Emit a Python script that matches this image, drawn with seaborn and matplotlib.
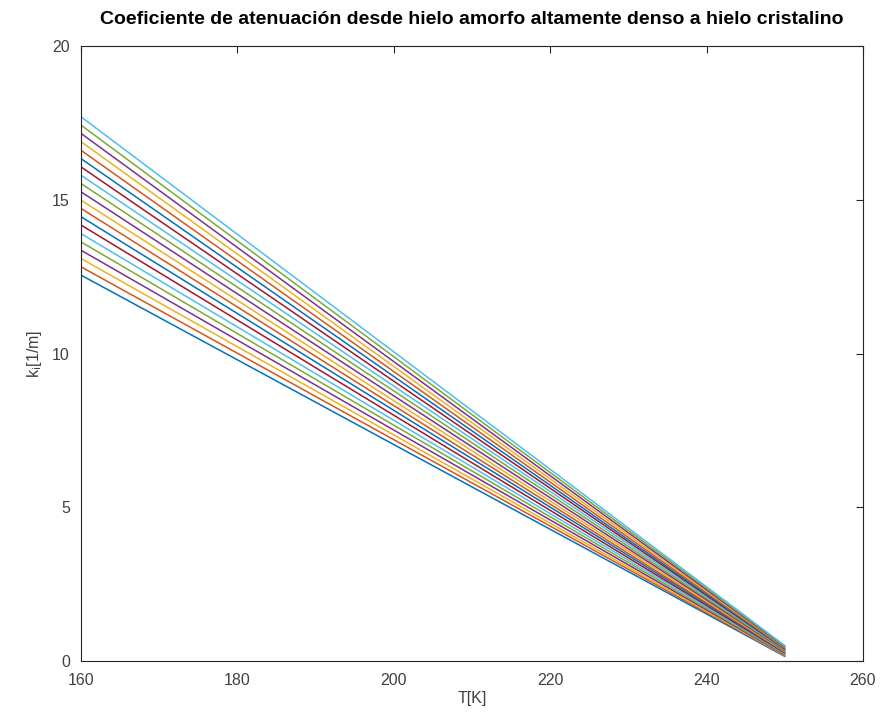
import numpy as np
import pandas as pd
import matplotlib
matplotlib.use("Agg")
import matplotlib.pyplot as plt
import seaborn as sns

# Temperature endpoints [K]
temps = [160, 250]

# Attenuation coefficient at each end, one entry per curve (dense amorphous -> crystalline)
k_at_160 = [12.55, 12.82, 13.09, 13.36, 13.63, 13.90, 14.18, 14.45, 14.72, 14.99,
            15.26, 15.53, 15.80, 16.07, 16.34, 16.61, 16.89, 17.16, 17.43, 17.70]
k_at_250 = [0.15, 0.17, 0.18, 0.20, 0.22, 0.24, 0.26, 0.28, 0.29, 0.31,
            0.33, 0.35, 0.37, 0.39, 0.40, 0.42, 0.44, 0.46, 0.48, 0.50]

# Octave/MATLAB default line colour order
line_colors = ["#0072BD", "#D95319", "#EDB120", "#7E2F8E", "#77AC30", "#4DBEEE", "#A2142F"]

rows = []
for i, (k0, k1) in enumerate(zip(k_at_160, k_at_250)):
    rows.append({"T": temps[0], "k": k0, "curve": i})
    rows.append({"T": temps[1], "k": k1, "curve": i})
df = pd.DataFrame(rows)

sns.set_style("white")
plt.rcParams["font.family"] = ["Liberation Sans", "DejaVu Sans"]

fig = plt.figure(figsize=(8.84, 7.2), dpi=100)
ax = fig.add_axes([0.0916, 0.082, 0.8846, 0.854])

palette = [line_colors[i % len(line_colors)] for i in range(len(k_at_160))]
sns.lineplot(data=df, x="T", y="k", hue="curve", palette=palette,
             legend=False, linewidth=1.1, ax=ax)

ax.set_xlim(160, 260)
ax.set_ylim(0, 20)
ax.set_xticks([160, 180, 200, 220, 240, 260])
ax.set_yticks([0, 5, 10, 15, 20])
ax.tick_params(direction="in", top=True, right=True, length=5, width=0.8,
               labelsize=11.5, colors="#262626", labelcolor="#404040")
ax.tick_params(axis="x", pad=9)
ax.tick_params(axis="y", pad=8)
for s in ax.spines.values():
    s.set_color("#262626")
    s.set_linewidth(0.8)

ax.set_xlabel("T[K]", fontsize=11.5, color="#404040", labelpad=2)
ax.set_ylabel(r"k$_\mathrm{i}$[1/m]", fontsize=11.5, color="#404040", labelpad=6)
ax.set_title("Coeficiente de atenuación desde hielo amorfo altamente denso a hielo cristalino",
             fontsize=14, fontweight="bold", color="black", pad=16)

fig.savefig("out.png", dpi=100)
